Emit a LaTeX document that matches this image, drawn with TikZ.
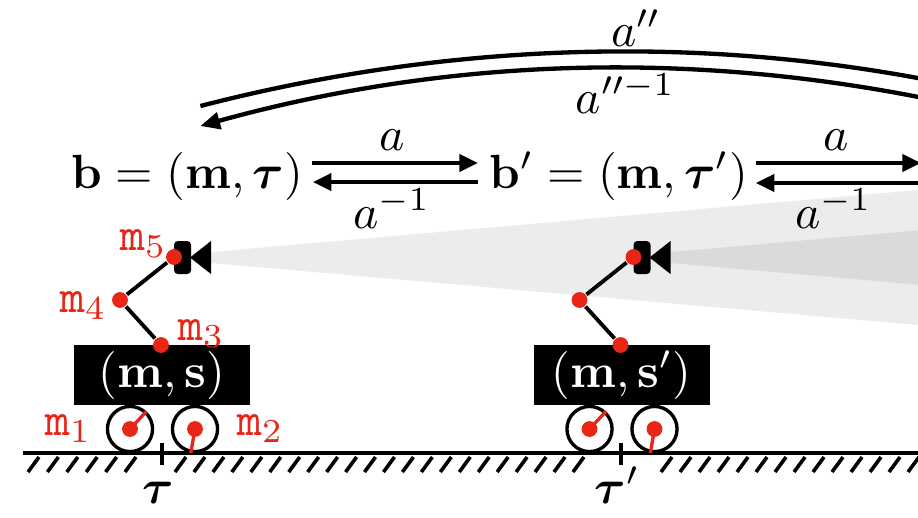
\documentclass[tikz,border=0pt]{standalone}
\usepackage{amsmath}
\usetikzlibrary{arrows.meta,calc}
\definecolor{robred}{RGB}{232,38,24}
\newcommand\drawrobot[3]{%
  \begin{scope}[shift={(#2,0)}]
    \fill[rounded corners=0.8pt] (174,241) rectangle (191,274);
    \fill (190,257.5) -- (211,241) -- (211,274) -- cycle;
    \node[bodybox] (#1body) at (162,375) {#3};
    \node[wheel] (#1wa) at (130,429) {};
    \node[wheel] (#1wb) at (195,429) {};
    \draw[spoke] (#1wa.center) -- (#1wa.47);
    \draw[spoke] (#1wb.center) -- (#1wb.-100);
    \node[dot] (#1da) at (#1wa.center) {};
    \node[dot] (#1db) at (#1wb.center) {};
    \node[dot] (#1j3) at (161,345) {};
    \node[dot] (#1j4) at (120,300) {};
    \node[dot] (#1j5) at (174,257) {};
    \draw[link] (#1j3) -- (#1j4) -- (#1j5);
  \end{scope}}
\begin{document}
\begin{tikzpicture}[x=0.2083pt,y=-0.2083pt,
  every node/.style={inner sep=0pt},
  lbl/.style={anchor=base},
  arr/.style={line width=0.95pt,-{Triangle[length=3.9pt,width=3.5pt]}},
  arcarr/.style={line width=0.9pt,-{Triangle[length=4.1pt,width=3.5pt]}},
  bodybox/.style={fill=black,text=white,minimum width=36.66pt,minimum height=12.5pt},
  wheel/.style={circle,draw,line width=0.7pt,minimum size=9.4pt},
  spoke/.style={draw=robred,line width=0.7pt},
  dot/.style={circle,fill=robred,minimum size=3.3pt},
  link/.style={line width=0.8pt},
  cone/.style={fill=black,fill opacity=0.075},
  hatch/.style={line width=0.75pt},
  mlab/.style={text=robred,anchor=base west},
  tickmark/.style={line width=0.75pt}]
\useasboundingbox (0,0) rectangle (918,517);
\clip (0,0) rectangle (918,517);
% view cones
\fill[cone] (211,252) -- (1000,182.8) -- (1000,332.2) -- (211,263) -- cycle;
\fill[cone] (670.5,252) -- (1460,182.8) -- (1460,332.2) -- (670.5,263) -- cycle;
% belief nodes
\node[anchor=base west] (A) at (71,188) {$\mathbf{b}=(\mathbf{m},\boldsymbol{\tau})$};
\node[anchor=base west] (B) at (489,188) {$\mathbf{b}'=(\mathbf{m},\boldsymbol{\tau}')$};
\coordinate (C) at (934,188);
% short arrows
\draw[arr] ($(A.base east)+(8,-25)$) -- ($(B.base west)+(-11,-25)$);
\draw[arr] ($(B.base west)+(-11,-6)$) -- ($(A.base east)+(9,-6)$);
\draw[arr] ($(B.base east)+(7,-25)$) -- ($(C)+(-13,-25)$);
\draw[arr] ($(C)+(-13,-5)$) -- ($(B.base east)+(7,-5)$);
\node[lbl] (la1) at (392.5,150) {$a$};
\node[lbl] (lb1) at (392,228) {$a^{-1}$};
\node[lbl] (la2) at (836,150) {$a$};
\node[lbl] (lb2) at (833.5,228) {$a^{-1}$};
% long arcs
\coordinate (U1) at ($(A.base)+(13,-82)$);
\coordinate (U2) at (1042,106);
\coordinate (L1) at (1042,126);
\coordinate (L2) at ($(A.base)+(13,-62)$);
\draw[arcarr] (U1) .. controls (479,34) and (761,34) .. (U2);
\draw[arcarr] (L1) .. controls (761,48.7) and (479,48.7) .. (L2);
\node[lbl] (app) at (636,46) {$a''$};
\node[lbl] (appi) at (625.5,113) {$a''^{-1}$};
% ground
\draw[line width=0.8pt] (23,453) -- (930,453);
\foreach \i in {0,...,5} \draw[hatch] ({28+19.4*\i},472) -- ++(11,-15);
\foreach \i in {0,...,21} \draw[hatch] ({175+18.95*\i},472) -- ++(11,-15);
\foreach \i in {0,...,14} \draw[hatch] ({661+19*\i},472) -- ++(11,-15);
\draw[tickmark] (162,443) -- (162,465);
\draw[tickmark] (621,443) -- (621,465);
\node[anchor=base west] (t1) at (142,503) {$\boldsymbol{\tau}$};
\node[anchor=base west] (t2) at (594,503) {$\boldsymbol{\tau}'$};
% robots
\drawrobot{L}{0}{$(\mathbf{m},\mathbf{s})$}
\drawrobot{R}{459.5}{$(\mathbf{m},\mathbf{s}')$}
% joint labels
\node[mlab] (m5) at (119,250) {$\mathtt{m}_5$};
\node[mlab] (m4) at (59,312) {$\mathtt{m}_4$};
\node[mlab] (m3) at (177,340) {$\mathtt{m}_3$};
\node[mlab] (m1) at (44,435) {$\mathtt{m}_1$};
\node[mlab] (m2) at (236,435) {$\mathtt{m}_2$};
\end{tikzpicture}
\end{document}
